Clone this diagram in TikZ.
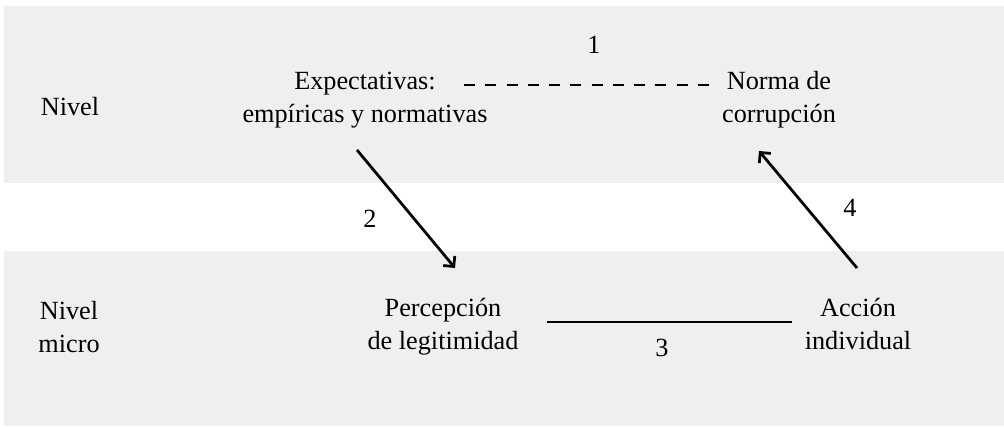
\documentclass[tikz,border=0pt]{standalone}
\usepackage{fontspec}
\setmainfont{Liberation Serif}
\usetikzlibrary{arrows.meta}
\definecolor{bandgray}{HTML}{EFEFEF}

\begin{document}
\begin{tikzpicture}[x=0.4pt,y=-0.4pt,
  txt/.style={align=center,inner sep=0pt,font=\fontsize{10.5}{13.2}\selectfont},
  link/.style={line width=1.1pt},
  arr/.style={line width=1.1pt,-{Straight Barb[length=3pt,width=6pt]}}]

\useasboundingbox (0,0) rectangle (1004,426);
\fill [bandgray] (4,6) rectangle (1004,183);
\fill [bandgray] (4,251) rectangle (1004,426);

\node [txt] (n1) at (70,107) {Nivel};
\node [txt] (n2) at (69,327) {Nivel\\micro};

\node [txt] (v1) at (365,100) {Expectativas:\\empíricas y normativas};
\node [txt] (v2) at (779,100) {Norma de\\corrupción};
\node [txt] (v3) at (443,327) {Percepción\\de legitimidad};
\node [txt] (v4) at (858,324) {Acción\\individual};

\node [txt] (l1) at (594,45) {1};
\node [txt] (l2) at (370,219) {2};
\node [txt] (l3) at (662,348) {3};
\node [txt] (l4) at (850,208) {4};

\draw [link,dash pattern=on 4.4pt off 4.1pt] ([shift={(99,-15)}]v1.center) -- ([shift={(-70,-15)}]v2.center);
\draw [arr] ([shift={(-8,50)}]v1.center) -- ([shift={(12,-59)}]v3.center);
\draw [link] ([shift={(104,-5)}]v3.center) -- ([shift={(-66,-2)}]v4.center);
\draw [arr] ([shift={(-1,-56)}]v4.center) -- ([shift={(-20,51)}]v2.center);

\end{tikzpicture}
\end{document}
